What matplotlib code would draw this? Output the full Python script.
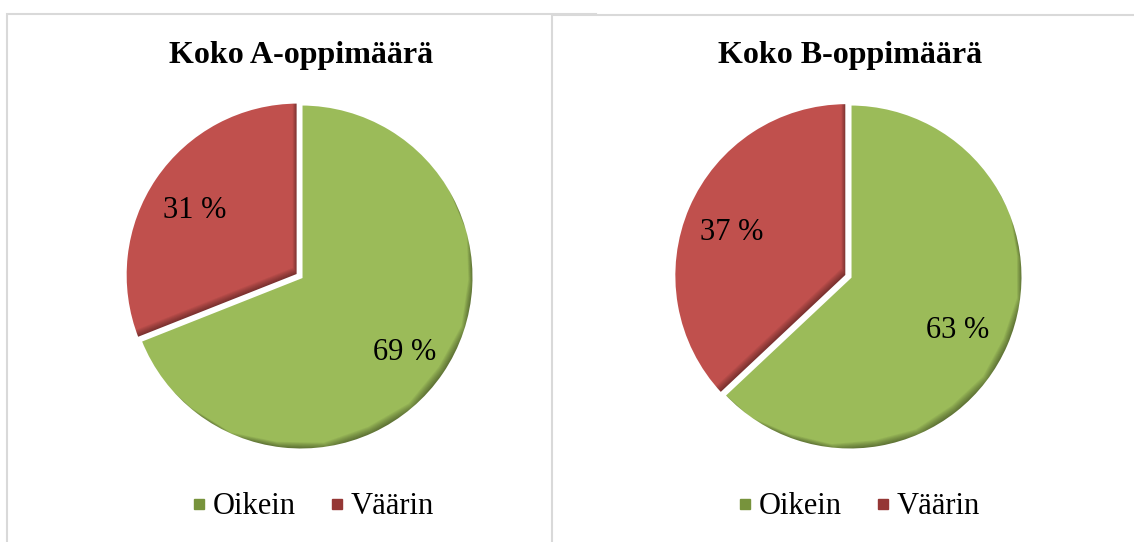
import matplotlib
matplotlib.use("Agg")
import matplotlib.pyplot as plt
import numpy as np
from matplotlib.patches import Rectangle, PathPatch
from matplotlib.path import Path
from matplotlib.lines import Line2D

W, H = 1134, 542
DPI = 100

titles = ["Koko A-oppimäärä", "Koko B-oppimäärä"]
categories = ["Oikein", "Väärin"]
values_a = [69, 31]
values_b = [63, 37]
colors = ["#9BBB59", "#C0504D"]
legend_colors = ["#77933C", "#953735"]

plt.rcParams['font.family'] = ['Liberation Serif', 'DejaVu Serif']

fig = plt.figure(figsize=(W / DPI, H / DPI), dpi=DPI)

def fx(px):
    return px / W

def fy(py):
    return 1 - py / H

def signed_area(poly):
    x, y = poly[:, 0], poly[:, 1]
    return 0.5 * np.sum(x * np.roll(y, -1) - np.roll(x, -1) * y)

# panel borders
fig.patches.append(Rectangle((fx(7), fy(560)), fx(596) - fx(7), fy(14) - fy(560),
                             transform=fig.transFigure, facecolor="white",
                             edgecolor="#d9d9d9", linewidth=1.5, zorder=-2))
fig.patches.append(Rectangle((fx(552), fy(560)), fx(1145) - fx(552), fy(15) - fy(560),
                             transform=fig.transFigure, facecolor="white",
                             edgecolor="#d9d9d9", linewidth=1.5, zorder=-1))

panels = [
    dict(values=values_a, cx=301, cy=277, title=titles[0], tx=301,
         lab_pos=[(405, 352), (195, 210)], leg_x=311),
    dict(values=values_b, cx=850, cy=277, title=titles[1], tx=850,
         lab_pos=[(958, 330), (732, 232)], leg_x=857),
]

R = 173
for p in panels:
    half = 1.1 * R
    ax = fig.add_axes([fx(p["cx"] - half), fy(p["cy"] + half), 2 * half / W, 2 * half / H])
    wedges, _ = ax.pie(p["values"], colors=colors, startangle=90, counterclock=False,
                       explode=[0, 0.02], radius=1,
                       wedgeprops=dict(edgecolor="none", linewidth=0))
    ax.set_xlim(-1.1, 1.1)
    ax.set_ylim(-1.1, 1.1)
    ax.set_aspect("equal")
    ax.axis("off")
    # inner shadow (bevel look), light from the upper-left
    rect = np.array([[-3, -3], [3, -3], [3, 3], [-3, 3], [-3, -3]], dtype=float)
    for w in wedges:
        poly = w.get_path().to_polygons()[0]
        if signed_area(poly) * signed_area(rect) > 0:
            poly = poly[::-1]
        for s in range(1, 10):
            d = s / R
            hole = poly + np.array([-d * 0.6, d * 0.8])
            verts = np.vstack([rect, hole])
            codes = ([Path.MOVETO] + [Path.LINETO] * (len(rect) - 1) +
                     [Path.MOVETO] + [Path.LINETO] * (len(hole) - 1))
            sh = PathPatch(Path(verts, codes), transform=ax.transData,
                           facecolor="black", edgecolor="none", alpha=0.055, zorder=3)
            ax.add_patch(sh)
            sh.set_clip_path(w.get_path(), ax.transData)
        ax.add_patch(PathPatch(w.get_path(), transform=ax.transData, facecolor="none",
                               edgecolor="white", linewidth=2.2, zorder=4))
    for v, (lx, ly) in zip(p["values"], p["lab_pos"]):
        fig.text(fx(lx), fy(ly), f"{v} %", ha="center", va="center", fontsize=22,
                 color="black", zorder=5)
    fig.text(fx(p["tx"]), fy(55), p["title"], ha="center", va="center",
             fontsize=23, fontweight="bold", color="black")
    handles = [Line2D([], [], marker="s", linestyle="none", markersize=7.5,
                      markerfacecolor=c, markeredgecolor=c) for c in legend_colors]
    fig.legend(handles, categories, loc="center", bbox_to_anchor=(fx(p["leg_x"]), fy(507)),
               ncol=2, frameon=False, fontsize=22, handletextpad=0.1, columnspacing=1.0,
               handlelength=0.7)

fig.savefig("out.png", dpi=DPI)
